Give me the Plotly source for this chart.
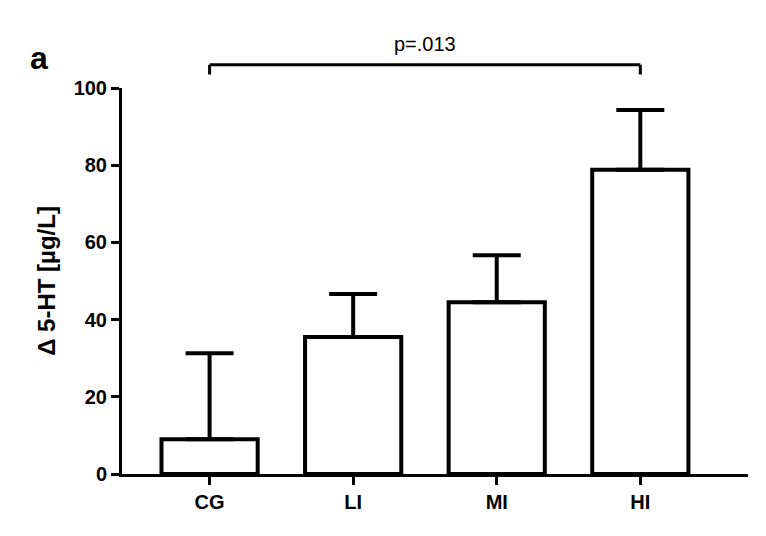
import plotly.graph_objects as go

groups = ["CG", "LI", "MI", "HI"]
means = [9, 35.5, 44.5, 78.8]
err_up = [22.3, 11.1, 12.2, 15.5]
p_label = "p=.013"

fnt = "Liberation Sans, Arial"

fig = go.Figure(go.Bar(
    x=[0, 1, 2, 3], y=means,
    width=0.67,
    marker=dict(color="white", line=dict(color="black", width=4)),
    error_y=dict(type="data", symmetric=False, array=err_up,
                 arrayminus=[0] * len(means), color="black",
                 thickness=4, width=24),
))

fig.update_layout(
    width=766, height=536,
    paper_bgcolor="white", plot_bgcolor="white",
    margin=dict(l=114, r=26, t=80, b=70),
    showlegend=False,
    font=dict(family=fnt, size=20, color="black"),
    xaxis=dict(range=[-0.61, 3.75], tickvals=[0, 1, 2, 3],
               ticktext=[f"<b>{g}</b>" for g in groups],
               showline=True, linewidth=3, linecolor="black",
               ticks="outside", ticklen=8, tickwidth=3, tickcolor="black",
               tickfont=dict(family=fnt, size=20, color="black"),
               showgrid=False, zeroline=False),
    yaxis=dict(range=[0, 100], dtick=20,
               showline=True, linewidth=3, linecolor="black",
               ticks="outside", ticklen=8, tickwidth=3, tickcolor="black",
               tickfont=dict(family=fnt, size=20, color="black"),
               tickprefix="<b>", ticksuffix="</b>",
               title=dict(text="<b>Δ 5-HT [µg/L]</b>", standoff=12),
               showgrid=False, zeroline=False),
)

# significance bracket between CG and HI
fig.add_shape(type="line", xref="x", yref="paper", x0=0, x1=3, y0=1.06, y1=1.06,
              line=dict(color="black", width=3))
for xi in (0, 3):
    fig.add_shape(type="line", xref="x", yref="paper", x0=xi, x1=xi, y0=1.06, y1=1.035,
                  line=dict(color="black", width=3))
fig.add_annotation(x=1.5, xref="x", y=1.08, yref="paper", text=p_label,
                   showarrow=False, yanchor="bottom",
                   font=dict(family=fnt, size=20, color="black"))
fig.add_annotation(x=-0.15, xref="paper", y=1.13, yref="paper",
                   text="<b>a</b>", showarrow=False, xanchor="left",
                   font=dict(family=fnt, size=32, color="black"))

fig.write_html("out.html")
